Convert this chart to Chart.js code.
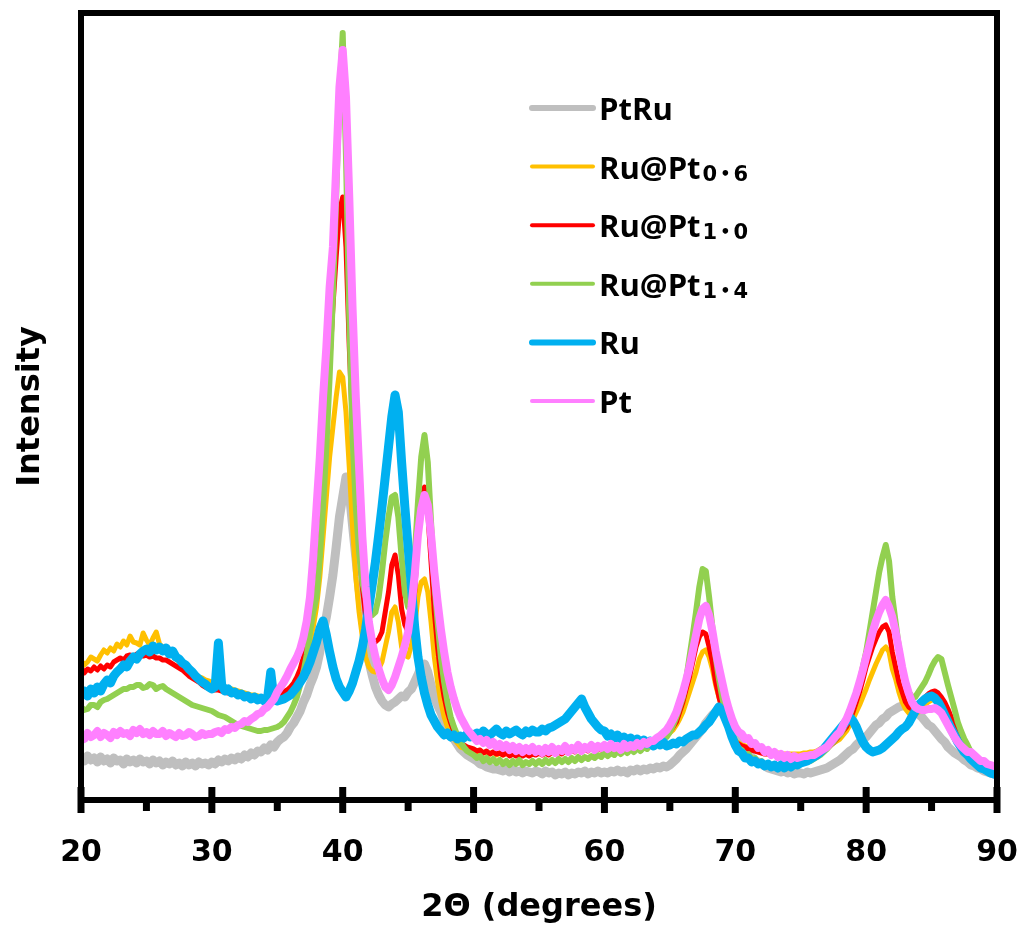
<!DOCTYPE html>
<html>
<head>
<meta charset="utf-8">
<script src="https://cdn.jsdelivr.net/npm/chart.js@4.4.0/dist/chart.umd.min.js"></script>
<style>
  html, body { margin: 0; padding: 0; background: #fff; }
  #xrdchart { display: block; }
</style>
</head>
<body>
<canvas id="xrdchart" width="1020" height="936" style="width:1020px;height:936px"></canvas>
<script>
// 2-theta grid of the scans: 20..90 in 0.25 degree steps
const twoThetaStart = 20
const twoThetaStep = 0.25

const seriesNames = ['PtRu', 'Ru@Pt', 'Ru@Pt', 'Ru@Pt', 'Ru', 'Pt']
const seriesSubs = ['', '0.6', '1.0', '1.4', '', '']
const seriesColors = ['#bfbfbf', '#ffc000', '#ff0000', '#92d050', '#00b0f0', '#ff80ff']

const xTickLabels = [20, 30, 40, 50, 60, 70, 80, 90]

const ptruIntensity = [
  40,36,41,37,39,35,40,36,38,34,39,36,37,33,38,35,37,34,38,35,
  36,33,37,34,36,32,35,33,36,32,34,31,35,32,34,31,35,33,34,32,
  35,33,37,35,38,36,39,37,40,38,42,40,44,42,46,45,49,47,52,50,
  55,58,60,64,70,74,80,86,95,102,112,120,130,145,165,180,200,222,250,280,
  300,320,305,272,240,208,180,158,136,122,110,102,96,92,90,93,95,98,101,100,
  105,108,115,122,130,133,125,112,100,92,85,76,70,64,58,53,48,45,42,40,
  38,36,33,32,30,29,28,28,27,26,28,25,27,25,26,24,26,25,24,26,
  25,23,26,24,25,22,24,23,25,22,24,23,25,24,26,23,25,24,26,24,
  25,24,26,25,27,25,26,24,27,26,28,26,28,27,29,28,30,29,31,30,
  32,35,38,42,45,48,52,56,60,64,68,74,78,82,85,88,87,84,80,72,
  62,56,50,46,43,40,37,35,33,31,29,28,27,26,25,26,24,25,23,24,
  24,23,25,24,25,26,27,28,29,31,33,35,37,40,43,46,48,52,55,58,
  60,64,68,72,74,78,80,84,86,88,90,91,92,90,88,86,83,80,76,72,
  70,66,62,58,55,50,47,44,42,40,37,35,32,31,29,28,26,25,24,23,
  22
]

const rupt06Intensity = [
  137,132,135,140,138,136,142,147,144,149,146,153,150,156,152,161,155,154,152,164,
  157,152,159,165,153,150,148,146,141,138,136,132,130,128,125,122,120,119,117,116,
  115,114,112,111,110,109,108,107,106,105,104,103,102,102,101,100,100,100,101,101,
  102,103,104,106,108,112,116,122,130,140,155,170,190,220,260,300,340,370,400,425,
  420,385,330,270,220,185,160,140,130,126,125,128,135,150,165,185,190,175,150,142,
  140,152,170,200,215,218,205,175,140,115,95,80,70,63,58,54,50,49,48,47,
  47,45,46,44,45,43,45,42,44,42,44,42,44,42,45,43,45,43,45,44,
  46,44,46,44,47,45,47,45,48,46,48,46,49,47,49,47,50,48,50,48,
  51,49,51,49,52,50,52,50,53,51,53,52,55,53,56,54,58,58,61,62,
  64,67,72,78,85,95,105,115,125,138,145,147,140,128,112,100,88,78,68,61,
  56,54,52,51,50,49,48,47,46,45,45,44,44,44,43,43,43,43,43,43,
  43,44,44,45,45,46,48,49,50,52,54,56,58,62,66,72,78,85,92,100,
  108,117,125,133,140,147,150,145,128,118,105,95,88,84,82,83,85,88,92,95,
  97,97,97,95,90,85,78,70,63,57,52,47,43,40,37,35,34,32,30,29,
  28
]

const rupt10Intensity = [
  130,124,128,126,130,127,131,128,132,130,135,137,139,137,141,142,140,143,142,141,
  142,140,141,139,139,137,137,135,133,131,129,127,124,121,119,117,115,112,110,109,
  108,107,107,106,105,104,104,103,102,101,101,100,100,99,99,99,99,99,100,100,
  102,103,105,107,110,114,120,128,140,155,175,195,220,260,310,370,430,490,540,585,
  600,550,450,370,300,250,210,180,165,158,155,158,165,185,205,232,242,222,188,172,
  165,180,205,258,295,310,285,235,185,150,120,100,85,74,65,60,55,52,50,49,
  48,46,47,44,46,43,45,43,44,42,44,41,43,41,43,41,43,41,43,42,
  44,42,44,42,45,43,45,43,46,44,47,45,48,46,48,46,49,47,49,47,
  50,48,50,49,51,49,52,50,53,51,53,52,54,52,55,55,57,58,61,62,
  65,70,75,85,95,108,120,135,150,160,165,163,150,135,115,100,88,78,68,60,
  55,53,51,50,48,47,46,45,44,43,43,42,42,41,41,40,40,40,40,40,
  40,40,41,41,42,43,44,46,48,51,54,58,62,66,70,77,85,95,105,117,
  130,140,150,158,165,170,172,165,145,130,115,105,95,90,88,89,92,95,100,103,
  105,106,104,100,95,88,80,72,65,58,52,47,42,40,37,35,33,31,30,29,
  28
]

const rupt14Intensity = [
  90,87,88,92,92,90,95,97,98,100,102,104,106,108,108,110,110,112,112,109,
  110,113,112,108,110,111,108,106,104,102,100,98,96,94,92,91,90,89,88,87,
  86,84,82,81,80,78,76,74,72,71,70,69,68,67,66,66,67,67,68,69,
  70,72,75,80,85,92,100,112,125,142,165,185,200,240,290,350,420,500,600,700,
  764,640,480,360,290,245,215,200,188,182,185,200,225,255,280,300,302,280,240,205,
  190,200,240,295,340,362,335,275,215,175,140,115,95,80,70,62,55,50,46,44,
  42,39,41,36,39,35,38,34,37,33,36,32,36,33,37,32,35,33,36,33,
  36,33,37,34,37,34,38,35,38,35,39,36,40,37,40,38,41,39,42,40,
  44,41,44,42,46,43,47,44,48,45,49,46,50,48,52,51,54,55,58,60,
  65,72,80,90,100,118,140,162,185,210,228,226,200,170,140,118,100,85,72,62,
  55,49,47,42,43,38,39,34,36,32,34,31,33,30,32,30,33,30,33,31,
  34,35,35,36,38,40,42,45,48,52,55,60,62,68,75,82,92,102,115,130,
  145,165,185,205,225,240,252,236,200,175,150,130,115,105,100,100,105,110,115,122,
  130,136,140,138,125,112,100,88,75,66,58,52,45,42,38,36,35,33,32,31,
  30
]

const ruIntensity = [
  102,106,101,108,104,110,106,113,117,114,121,125,128,132,130,136,140,138,143,146,
  148,145,151,147,150,146,149,143,146,140,138,134,132,128,125,121,118,115,113,110,
  108,110,154,112,106,108,104,105,102,103,100,101,98,100,97,99,96,98,125,97,
  96,97,98,100,102,106,110,115,120,127,135,145,155,168,176,162,145,130,118,110,
  105,100,106,114,125,136,150,168,190,212,235,262,290,320,350,380,402,385,335,290,
  250,210,170,140,120,104,92,82,76,70,66,62,64,60,62,58,61,59,63,60,
  62,64,61,66,63,62,65,68,64,62,66,63,65,67,64,62,66,64,67,65,
  65,68,66,69,70,72,74,76,78,82,86,90,94,98,90,84,78,74,70,67,
  66,61,63,59,62,57,60,55,59,54,58,53,57,53,56,51,56,52,55,51,
  52,54,53,56,55,58,60,62,62,65,68,72,75,80,85,90,86,78,70,60,
  52,46,44,39,39,35,36,33,34,31,33,30,32,29,32,29,33,30,33,32,
  34,35,36,38,40,42,45,48,52,56,60,64,68,72,76,80,76,70,62,55,
  50,47,45,46,47,49,52,55,58,61,65,68,70,74,80,86,92,95,98,100,
  101,99,95,89,82,75,68,62,55,50,45,42,38,35,32,29,28,26,24,23,
  22
]

const ptIntensity = [
  62,58,64,60,62,66,60,64,62,59,65,62,66,63,64,61,67,64,68,63,
  65,62,66,63,63,66,61,64,62,60,64,61,62,65,63,60,61,64,62,63,
  63,65,66,64,68,67,70,69,72,73,76,75,78,80,83,84,88,90,94,98,
  105,110,115,121,128,134,140,148,160,176,200,240,290,340,400,450,510,550,630,710,
  747,700,600,490,400,330,260,210,175,155,140,128,118,110,107,112,120,130,140,152,
  165,190,222,262,288,302,292,262,225,195,168,145,125,110,98,88,80,74,68,64,
  60,56,58,54,57,52,55,50,53,49,52,47,51,46,50,45,49,46,50,45,
  48,44,49,45,50,44,48,46,51,45,49,47,52,46,50,48,52,47,51,49,
  52,48,53,49,51,47,53,49,52,50,54,51,55,53,56,56,59,61,64,67,
  72,78,85,95,105,117,130,146,162,178,188,191,182,166,146,130,115,100,88,78,
  70,65,63,58,59,53,54,49,50,45,47,42,45,40,43,39,42,38,41,39,
  40,41,41,42,42,44,46,48,50,54,58,62,65,72,78,86,95,104,115,127,
  140,152,165,176,185,192,197,190,180,165,148,130,115,104,95,90,88,87,87,88,
  88,89,87,84,78,72,66,60,55,51,48,45,45,42,39,36,36,33,32,31,
  30
]

const seriesValues = [ptruIntensity, rupt06Intensity, rupt10Intensity, rupt14Intensity, ruIntensity, ptIntensity]
// Pt on top, PtRu at the bottom (lower order = drawn later)
const seriesOrder = [5, 4, 3, 2, 1, 0]
const seriesWidths = [9, 5, 5, 6, 9, 8]

const fontFamily = '"Open Sans", "Noto Sans", "DejaVu Sans", sans-serif'
const axisFont = '"DejaVu Sans", sans-serif'
Chart.defaults.font.family = fontFamily
Chart.defaults.color = '#000'

function toPoints(values) {
  return values.map((v, i) => ({ x: twoThetaStart + i * twoThetaStep, y: v }))
}

const xrdFrame = {
  id: 'xrdFrame',
  afterDatasetsDraw(chart) {
    const { ctx, chartArea: a } = chart
    const xs = chart.scales.x
    ctx.save()
    ctx.strokeStyle = '#000'
    ctx.lineWidth = 6
    ctx.strokeRect(a.left, a.top, a.right - a.left, a.bottom - a.top)
    ctx.lineWidth = 7
    xs.ticks.forEach(t => {
      const px = xs.getPixelForValue(t.value)
      const major = xTickLabels.includes(t.value)
      ctx.beginPath()
      ctx.moveTo(px, major ? a.bottom - 13 : a.bottom)
      ctx.lineTo(px, a.bottom + (major ? 13 : 11))
      ctx.stroke()
    })
    ctx.restore()
  }
}

const xrdLegend = {
  id: 'xrdLegend',
  afterDraw(chart) {
    const ctx = chart.ctx
    const opts = chart.options.plugins.xrdLegend
    ctx.save()
    chart.data.datasets.forEach((ds, i) => {
      const y = opts.top + i * opts.rowHeight
      ctx.strokeStyle = ds.borderColor
      ctx.lineWidth = ds.borderWidth >= 9 ? 6 : 4
      ctx.lineCap = 'round'
      ctx.beginPath()
      ctx.moveTo(opts.left, y)
      ctx.lineTo(opts.left + opts.lineLength, y)
      ctx.stroke()

      let tx = opts.left + opts.lineLength + 6
      ctx.fillStyle = '#000'
      ctx.textBaseline = 'alphabetic'
      ctx.font = 'bold 31px ' + fontFamily
      ctx.fillText(ds.legendName, tx, y + 12)
      tx += ctx.measureText(ds.legendName).width + 2
      if (ds.legendSub) {
        ds.legendSub.split('').forEach(ch => {
          const dot = ch === '.'
          ctx.font = dot ? 'bold 16px "DejaVu Sans", sans-serif' : 'bold 21px "DejaVu Sans", sans-serif'
          const g = dot ? '\u2022' : ch
          ctx.fillText(g, tx, y + (dot ? 12 : 14))
          tx += ctx.measureText(g).width + 3
        })
      }
    })
    ctx.restore()
  }
}

const xrddatasets = seriesNames.map((name, i) => ({
  label: name + seriesSubs[i],
  legendName: name,
  legendSub: seriesSubs[i],
  data: toPoints(seriesValues[i]),
  borderColor: seriesColors[i],
  backgroundColor: seriesColors[i],
  borderWidth: seriesWidths[i],
  borderJoinStyle: 'round',
  pointRadius: 0,
  tension: 0,
  order: seriesOrder[i]
}))

const xrdconfig = {
  type: 'line',
  data: { datasets: xrddatasets },
  options: {
    responsive: false,
    animation: false,
    devicePixelRatio: 1,
    layout: { padding: { top: 13, right: 23, bottom: 0, left: 0 } },
    scales: {
      x: {
        type: 'linear',
        min: 20,
        max: 90,
        grid: { display: false, drawTicks: false },
        border: { display: false },
        ticks: {
          stepSize: 5,
          autoSkip: false,
          maxRotation: 0,
          padding: 35,
          color: '#000',
          font: { size: 30, weight: 'bold', family: axisFont },
          callback: v => xTickLabels.includes(v) ? v : ''
        },
        title: {
          display: true,
          text: '2\u0398 (degrees)',
          color: '#000',
          font: { size: 32, weight: 'bold', family: axisFont },
          padding: { top: 0, bottom: 9 }
        },
        afterFit: s => { s.height = 136; s.paddingLeft = 0; s.paddingRight = 0 }
      },
      y: {
        min: -3,
        max: 784,
        grid: { display: false, drawTicks: false },
        border: { display: false },
        ticks: { display: false },
        title: {
          display: true,
          text: 'Intensity',
          color: '#000',
          font: { size: 32, weight: 'bold', family: axisFont },
          padding: { top: 11, bottom: 0 }
        },
        afterFit: s => { s.width = 81; s.paddingTop = 0; s.paddingBottom = 0 }
      }
    },
    plugins: {
      legend: { display: false },
      tooltip: { enabled: false },
      xrdLegend: { left: 532, top: 108, rowHeight: 58.6, lineLength: 61 }
    }
  },
  plugins: [xrdFrame, xrdLegend]
}

new Chart(document.getElementById('xrdchart'), xrdconfig)
</script>
</body>
</html>
